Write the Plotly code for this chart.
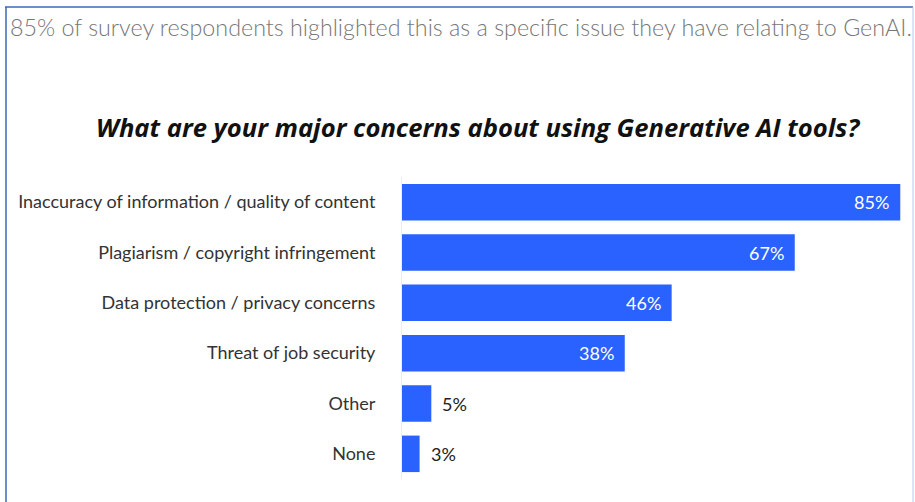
import plotly.graph_objects as go

categories = [
    "Inaccuracy of information / quality of content",
    "Plagiarism / copyright infringement",
    "Data protection / privacy concerns",
    "Threat of job security",
    "Other",
    "None",
]
values = [85, 67, 46, 38, 5, 3]
value_labels = ["85%", "67%", "46%", "38%", "5%", "3%"]

title_text = "What are your major concerns about using Generative AI tools?"
header_text = "85% of survey respondents highlighted this as a specific issue they have relating to GenAI."

W, H = 915, 502
BAR = "#2962FF"

fig = go.Figure(go.Bar(
    y=categories, x=values, orientation="h",
    marker=dict(color=BAR, line=dict(width=0)),
    hoverinfo="skip",
))

annotations = []
for c, v, t in zip(categories, values, value_labels):
    inside = v > 15
    annotations.append(dict(
        x=v, y=c, xref="x", yref="y", text=t, showarrow=False,
        xanchor="right" if inside else "left",
        xshift=-9 if inside else 9,
        font=dict(family="Lato", size=18, color="white" if inside else "#222"),
    ))

annotations.append(dict(
    x=8 / W, y=1 - 27 / H, xref="paper", yref="paper", text=header_text,
    showarrow=False, xanchor="left", yanchor="middle",
    font=dict(family="Lato", size=23.3, color="#777", weight=300),
))
annotations.append(dict(
    x=478 / W, y=1 - 127 / H, xref="paper", yref="paper",
    text="<b><i>" + title_text + "</i></b>",
    showarrow=False, xanchor="center", yanchor="middle",
    font=dict(family="Open Sans", size=25.6, color="#111"),
))

shapes = [
    dict(type="line", xref="paper", yref="paper", x0=5 / W, x1=913 / W,
         y0=1 - 7 / H, y1=1 - 7 / H, line=dict(color="#3F66B8", width=1.5)),
    dict(type="line", xref="paper", yref="paper", x0=6 / W, x1=6 / W,
         y0=1 - 7 / H, y1=0, line=dict(color="#3F66B8", width=1.5)),
    dict(type="line", xref="paper", yref="paper", x0=913 / W, x1=913 / W,
         y0=1 - 7 / H, y1=0, line=dict(color="#B8C6E4", width=1)),
]

fig.update_layout(
    width=W, height=H,
    margin=dict(l=0, r=0, t=0, b=0),
    paper_bgcolor="white", plot_bgcolor="white",
    showlegend=False,
    bargap=0.275,
    annotations=annotations,
    shapes=shapes,
    xaxis=dict(domain=[402 / W, 912 / W], range=[0, 87], visible=False,
               fixedrange=True),
    yaxis=dict(domain=[1 - 479 / H, 1 - 177 / H], autorange="reversed",
               showgrid=False, showline=True, linecolor="#EDEDED", linewidth=1,
               ticks="", ticklabelstandoff=22,
               tickfont=dict(family="Lato", size=18, color="#333"),
               fixedrange=True),
)

fig.write_html("out.html", config={"displayModeBar": False})
